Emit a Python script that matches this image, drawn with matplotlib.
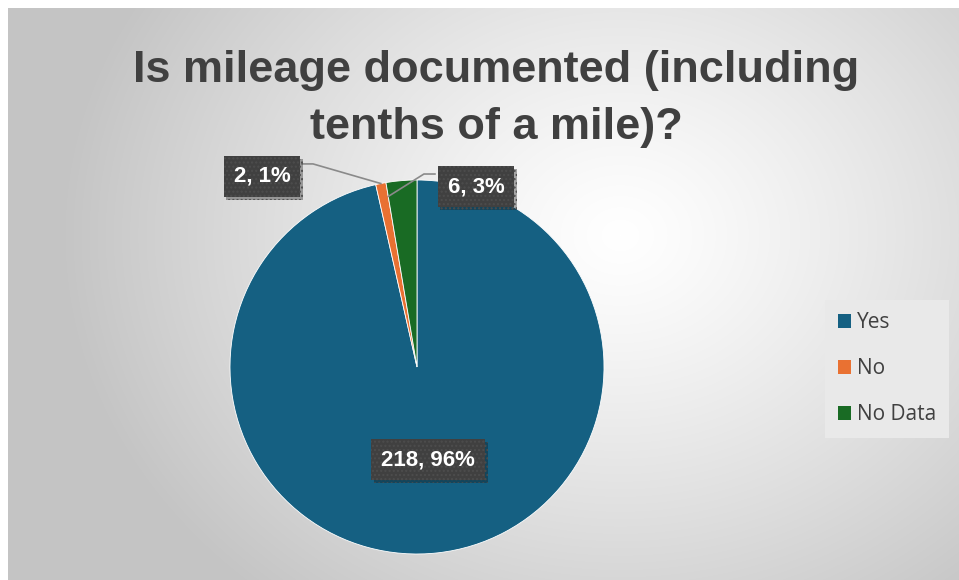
import matplotlib
matplotlib.use('Agg')
import matplotlib.pyplot as plt
import numpy as np
from matplotlib.patches import Patch
import matplotlib.patheffects as pe

categories = ['Yes', 'No', 'No Data']
values = [218, 2, 6]
colors = ['#156082', '#E97132', '#196B24']
title = "Is mileage documented (including\ntenths of a mile)?"

FW, FH = 959, 580
fig = plt.figure(figsize=(FW / 100, FH / 100), dpi=100)
fig.patch.set_facecolor('white')

# radial gradient background
bg = fig.add_axes([8 / FW, 0, 1 - 8 / FW, 1 - 8 / FH])
bg.axis('off')
H, W = FH - 8, FW - 8
yy, xx = np.mgrid[0:H, 0:W]
r = np.sqrt(((xx + 8 - 620) / 560.0) ** 2 + ((yy + 8 - 235) / 470.0) ** 2)
v = 1 - 0.23 * np.clip(r, 0, 1) ** 1.2
rgb = np.dstack([v, v, v])
bg.imshow(rgb, aspect='auto', interpolation='none')

# pie
cx, cy, R = 417, 367, 187
ax = fig.add_axes([(cx - R) / FW, (FH - cy - R) / FH, 2 * R / FW, 2 * R / FH])
wedges, _ = ax.pie(values, colors=colors, startangle=90, counterclock=False, radius=1,
                   wedgeprops=dict(edgecolor='white', linewidth=0.6))
ax.set_xlim(-1, 1)
ax.set_ylim(-1, 1)
ax.axis('off')

total = sum(values)
label_pos = [(0.059, -0.497), (-0.829, 1.019), (0.316, 0.963)]
for val, (lx, ly) in zip(values, label_pos):
    txt = f"{val}, {round(100 * val / total)}%"
    t = ax.text(lx, ly, txt, ha='center', va='center', fontsize=16, fontweight='bold',
                color='white', family='Liberation Sans', zorder=6, clip_on=False,
                bbox=dict(boxstyle='square,pad=0.45', fc='#404040', ec='#4d4d4d', lw=0,
                          hatch='....'))
    t.get_bbox_patch().set_path_effects([pe.SimplePatchShadow(offset=(2, -2), alpha=0.35), pe.Normal()])

# leader lines
w = wedges[1]
mid = np.deg2rad((w.theta1 + w.theta2) / 2)
ax.plot([-0.614, -0.556, np.cos(mid)], [1.086, 1.086, np.sin(mid)], color='#8a8a8a', lw=1.2,
        clip_on=False, zorder=5)
w = wedges[2]
edge = np.deg2rad(w.theta2)
ax.plot([0.096, 0.037, 0.925 * np.cos(edge)], [1.032, 1.032, 0.925 * np.sin(edge)], color='#8a8a8a',
        lw=1.2, clip_on=False, zorder=5)

# legend
handles = [Patch(facecolor=c, edgecolor='none') for c in colors]
fig.legend(handles, categories, loc='upper left', bbox_to_anchor=(825 / FW, 1 - 300 / FH),
           frameon=True, facecolor='#e9e9e9', edgecolor='none', framealpha=1, fancybox=False,
           prop=dict(family='Open Sans', size=15), labelcolor='#404040',
           handlelength=0.65, handleheight=0.65, handletextpad=0.28, labelspacing=1.2,
           borderpad=0.6, borderaxespad=0)

fig.text(496 / FW, 1 - 50 / FH, title, ha='center', va='top', fontsize=32.5, fontweight='bold',
         color='#404040', family='Liberation Sans', linespacing=1.5)

fig.savefig('out.png', dpi=100)
